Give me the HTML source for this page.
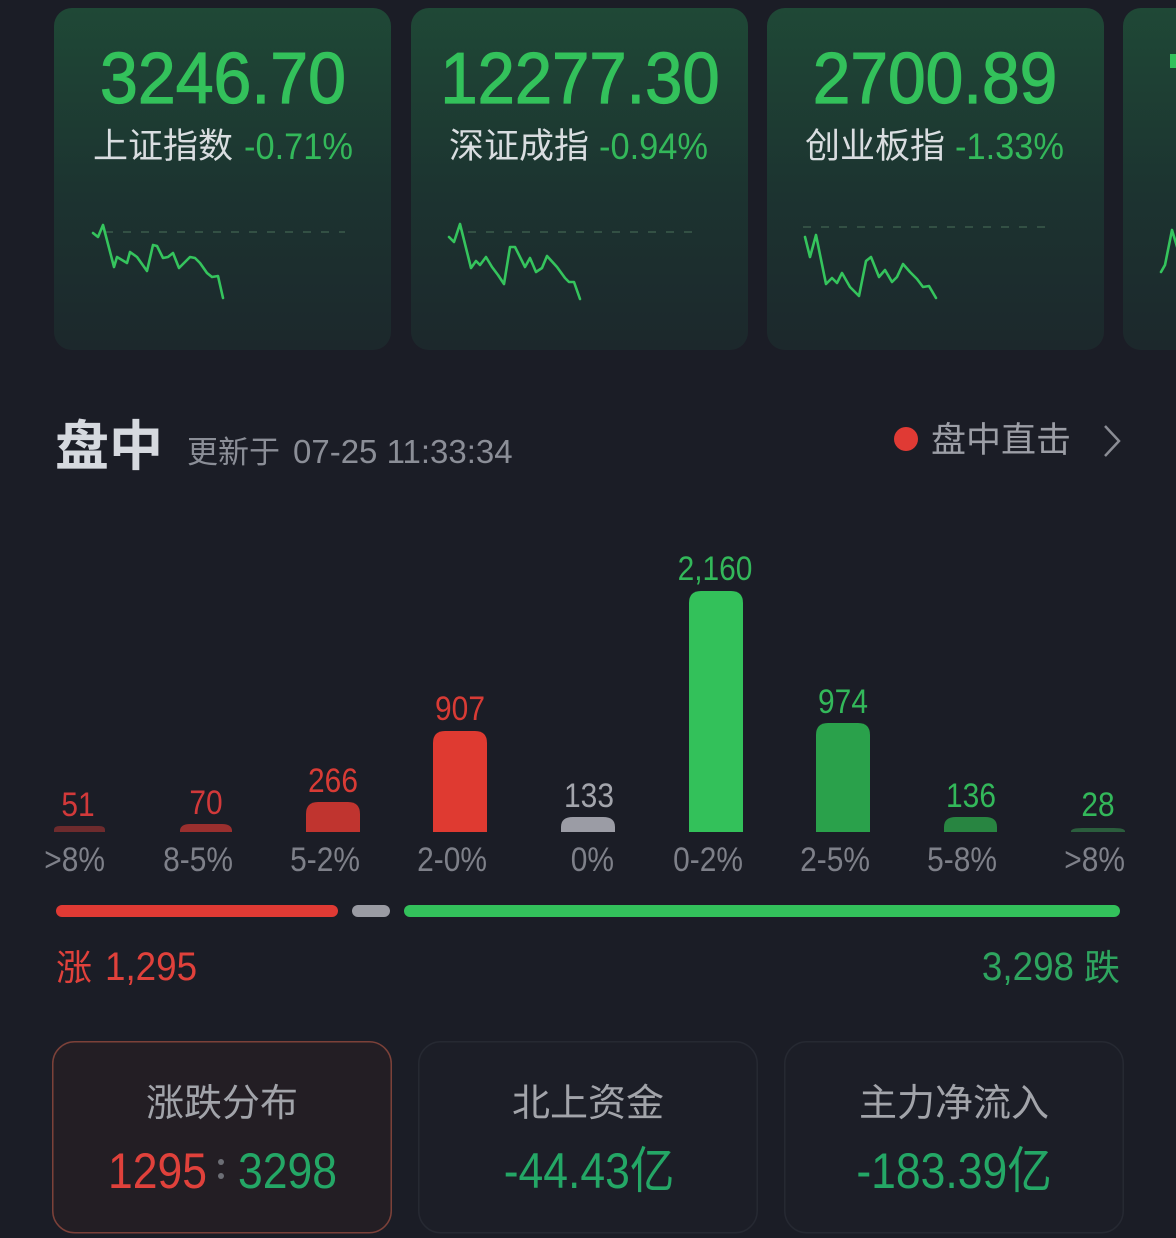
<!DOCTYPE html>
<html><head><meta charset="utf-8">
<style>
html,body{margin:0;padding:0;background:#1b1d26;width:1176px;height:1238px;overflow:hidden;}
svg{display:block;}
text{font-family:"Liberation Sans","Noto Sans CJK SC",sans-serif;}
.cjk{font-family:"Noto Sans CJK SC","Liberation Sans",sans-serif;}
</style></head>
<body>
<svg width="1176" height="1238" viewBox="0 0 1176 1238" xmlns="http://www.w3.org/2000/svg">
<defs>
<linearGradient id="cg" x1="0" y1="0" x2="0" y2="1">
<stop offset="0" stop-color="#1f4836"/>
<stop offset="0.55" stop-color="#1c3330"/>
<stop offset="1" stop-color="#1c282c"/>
</linearGradient>
</defs>
<rect x="0" y="0" width="1176" height="1238" fill="#1b1d26"/>

<!-- top cards -->
<rect x="54" y="8" width="337" height="342" rx="18" fill="url(#cg)"/>
<rect x="411" y="8" width="337" height="342" rx="18" fill="url(#cg)"/>
<rect x="767" y="8" width="337" height="342" rx="18" fill="url(#cg)"/>
<rect x="1123" y="8" width="337" height="342" rx="18" fill="url(#cg)"/>

<g fill="#33c15b" font-size="72" text-anchor="middle" stroke="#33c15b" stroke-width="1.2">
<text transform="translate(223,103) scale(0.945,1)">3246.70</text>
<text transform="translate(580,103) scale(0.93,1)">12277.30</text>
<text transform="translate(935,103) scale(0.94,1)">2700.89</text>
</g>
<rect x="1170" y="54" width="6" height="14" fill="#33c15b"/>

<g class="cjk" font-size="35" fill="#d9dde0">
<text x="93" y="158" class="cjk">上证指数</text>
<text x="449" y="158" class="cjk">深证成指</text>
<text x="805" y="158" class="cjk">创业板指</text>
</g>
<g font-size="37" fill="#33b85a">
<text transform="translate(244,159) scale(0.93,1)">-0.71%</text>
<text transform="translate(599,159) scale(0.93,1)">-0.94%</text>
<text transform="translate(955,159) scale(0.93,1)">-1.33%</text>
</g>

<!-- sparklines -->
<g stroke="#3b5a4b" stroke-width="1.5" stroke-dasharray="8 10" fill="none">
<line x1="105" y1="232" x2="345" y2="232"/>
<line x1="468" y1="232" x2="698" y2="232"/>
<line x1="803" y1="227" x2="1053" y2="227"/>
</g>
<g stroke="#35c45d" stroke-width="2.6" fill="none" stroke-linejoin="round" stroke-linecap="round">
<polyline points="93,233 98,237 103,225 114,267 117,257 122,260 127,263 130,252 137,257 147,271 153,245 157,246 163,258 168,257 173,253 179,268 190,257 195,258 200,263 207,273 212,277 218,276 223,298"/>
<polyline points="449,237 454,242 460,224 471,268 476,261 480,265 486,257 492,267 498,275 504,284 510,247 515,247 525,267 530,258 536,272 542,268 547,256 557,267 565,278 569,282 574,282 580,299"/>
<polyline points="805,237 810,257 816,235 826,284 832,278 837,283 842,273 850,287 859,296 866,261 871,257 879,277 885,270 892,282 897,277 903,264 910,272 917,279 923,287 929,286 936,298"/>
<polyline points="1161,272 1165,265 1172,230 1178,250"/>
</g>

<!-- header -->
<text x="55" y="465" class="cjk" font-size="54" font-weight="bold" fill="#d6d9df">盘中</text>
<text x="187" y="463" class="cjk" font-size="31" fill="#8b8e97">更新于</text>
<text x="293" y="463" font-size="33" fill="#8b8e97">07-25 11:33:34</text>
<circle cx="906" cy="439" r="12" fill="#e03a34"/>
<text x="931" y="452" class="cjk" font-size="35" fill="#9c9ea6">盘中直击</text>
<polyline points="1105,426 1119,441 1105,456" fill="none" stroke="#8a8c94" stroke-width="2.5"/>

<!-- bars -->
<g>
<path d="M54,832 L54,830 Q54,826 60,826 L99,826 Q105,826 105,830 L105,832 Z" fill="#6e2b2d"/>
<path d="M180,832 L180,830 Q181,824 190,824 L222,824 Q231,824 232,830 L232,832 Z" fill="#9a2f2e"/>
<path d="M306,832 L306,814 Q306,802 318,802 L348,802 Q360,802 360,814 L360,832 Z" fill="#c0342f"/>
<path d="M433,832 L433,743 Q433,731 445,731 L475,731 Q487,731 487,743 L487,832 Z" fill="#df3a31"/>
<path d="M561,832 L561,827 Q561,817 573,817 L603,817 Q615,817 615,827 L615,832 Z" fill="#9b9ca5"/>
<path d="M689,832 L689,603 Q689,591 701,591 L731,591 Q743,591 743,603 L743,832 Z" fill="#33c15a"/>
<path d="M816,832 L816,735 Q816,723 828,723 L858,723 Q870,723 870,735 L870,832 Z" fill="#2aa14b"/>
<path d="M944,832 L944,827 Q944,817 956,817 L985,817 Q997,817 997,827 L997,832 Z" fill="#288541"/>
<path d="M1071,832 L1071,831 Q1072,828 1082,828 L1114,828 Q1124,828 1125,831 L1125,832 Z" fill="#2b5e3d"/>
</g>
<g font-size="34" text-anchor="middle">
<text transform="translate(78,816) scale(0.88,1)" fill="#d2393a">51</text>
<text transform="translate(206,814) scale(0.88,1)" fill="#d2393a">70</text>
<text transform="translate(333,792) scale(0.88,1)" fill="#d83b35">266</text>
<text transform="translate(460,720) scale(0.88,1)" fill="#d83b35">907</text>
<text transform="translate(589,807) scale(0.88,1)" fill="#a3a5ac">133</text>
<text transform="translate(715,580) scale(0.88,1)" fill="#33b85a">2,160</text>
<text transform="translate(843,713) scale(0.88,1)" fill="#33b85a">974</text>
<text transform="translate(971,807) scale(0.88,1)" fill="#33b85a">136</text>
<text transform="translate(1098,816) scale(0.88,1)" fill="#33b85a">28</text>
</g>
<g font-size="34" text-anchor="end" fill="#7e8089">
<text transform="translate(105,871) scale(0.88,1)">&gt;8%</text>
<text transform="translate(233,871) scale(0.88,1)">8-5%</text>
<text transform="translate(360,871) scale(0.88,1)">5-2%</text>
<text transform="translate(487,871) scale(0.88,1)">2-0%</text>
<text transform="translate(614,871) scale(0.88,1)">0%</text>
<text transform="translate(743,871) scale(0.88,1)">0-2%</text>
<text transform="translate(870,871) scale(0.88,1)">2-5%</text>
<text transform="translate(997,871) scale(0.88,1)">5-8%</text>
<text transform="translate(1125,871) scale(0.88,1)">&gt;8%</text>
</g>

<!-- progress -->
<rect x="56" y="905" width="282" height="12" rx="6" fill="#e03a34"/>
<rect x="352" y="905" width="38" height="12" rx="6" fill="#9a9ba3"/>
<rect x="404" y="905" width="716" height="12" rx="6" fill="#33c15b"/>

<text x="56" y="980" class="cjk" font-size="36" fill="#e0413b">涨</text>
<text transform="translate(105,980) scale(0.92,1)" font-size="40" fill="#e0413b">1,295</text>
<text transform="translate(1074,980) scale(0.92,1)" font-size="40" fill="#2ea55f" text-anchor="end">3,298</text>
<text x="1084" y="980" class="cjk" font-size="36" fill="#2ea55f">跌</text>

<!-- bottom cards -->
<rect x="52.75" y="1041.75" width="338.5" height="191" rx="22" fill="#231e24" stroke="#7c4139" stroke-width="1.5"/>
<rect x="418.75" y="1041.75" width="338.5" height="191" rx="22" fill="#1c1e27" stroke="#262932" stroke-width="1.5"/>
<rect x="784.75" y="1041.75" width="338.5" height="191" rx="22" fill="#1c1e27" stroke="#262932" stroke-width="1.5"/>

<g class="cjk" font-size="38" fill="#a2a4aa" text-anchor="middle">
<text x="222" y="1116" class="cjk">涨跌分布</text>
<text x="588" y="1116" class="cjk">北上资金</text>
<text x="954" y="1116" class="cjk">主力净流入</text>
</g>
<g font-size="50">
<text transform="translate(108,1188) scale(0.89,1)" fill="#e0413b">1295</text>
<circle cx="221" cy="1162" r="3" fill="#6c6e75"/>
<circle cx="221" cy="1176" r="3" fill="#6c6e75"/>
<text transform="translate(238,1188) scale(0.89,1)" fill="#24a766">3298</text>
<text transform="translate(589,1188) scale(0.89,1)" fill="#24a766" text-anchor="middle">-44.43<tspan class="cjk">亿</tspan></text>
<text transform="translate(954,1188) scale(0.89,1)" fill="#24a766" text-anchor="middle">-183.39<tspan class="cjk">亿</tspan></text>
</g>
</svg>
</body></html>
